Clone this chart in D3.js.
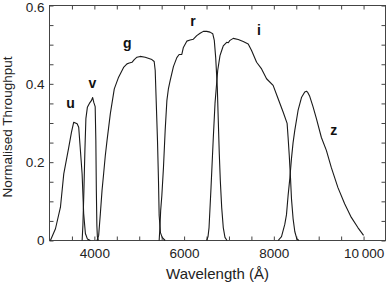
<!DOCTYPE html>
<html>
<head>
<meta charset="utf-8">
<script src="https://cdn.jsdelivr.net/npm/d3@7"></script>
<style>
  body { margin: 0; background: #fff; }
  svg { display: block; font-family: "Liberation Sans", Arial, sans-serif; }
</style>
</head>
<body>
<div id="chart"></div>
<script>
// filter throughput curves, [wavelength (Å), normalised throughput]
const uBand = [[3020,0],[3133,0.030],[3244,0.085],[3318,0.170],[3429,0.238],[3489,0.276],[3540,0.302],
  [3616,0.298],[3651,0.289],[3689,0.230],[3727,0.170],[3762,0.068],[3800,0.018],[3844,0.004],[3911,0]];
const vBand = [[3727,0],[3744,0.038],[3767,0.128],[3789,0.230],[3811,0.311],[3844,0.340],[3889,0.350],
  [3933,0.357],[3962,0.365],[3989,0.352],[4018,0.342],[4033,0.255],[4044,0.128],[4056,0.038],[4067,0.010],[4089,0]];
const gBand = [[4060,0],[4096,0.013],[4133,0.068],[4171,0.128],[4207,0.171],[4244,0.217],[4282,0.255],
  [4356,0.324],[4444,0.387],[4540,0.417],[4651,0.442],[4727,0.451],[4778,0.453],[4838,0.455],[4889,0.462],
  [4949,0.468],[5022,0.470],[5133,0.468],[5282,0.462],[5333,0.457],[5356,0.434],[5378,0.357],[5407,0.255],
  [5429,0.153],[5444,0.064],[5473,0.020],[5511,0.008],[5578,0]];
const rBand = [[5444,0],[5460,0.031],[5478,0.077],[5504,0.115],[5540,0.186],[5578,0.281],[5616,0.357],
  [5651,0.388],[5689,0.408],[5762,0.444],[5838,0.467],[5889,0.475],[5949,0.475],[5984,0.493],[6060,0.509],
  [6133,0.512],[6207,0.514],[6282,0.523],[6356,0.529],[6429,0.534],[6504,0.534],[6578,0.532],[6638,0.528],
  [6673,0.511],[6704,0.467],[6740,0.391],[6762,0.306],[6784,0.222],[6807,0.153],[6838,0.084],[6873,0.033],
  [6911,0.008],[6956,0]];
const iBand = [[6504,0],[6533,0.010],[6556,0.033],[6600,0.135],[6651,0.263],[6689,0.350],[6749,0.434],
  [6800,0.472],[6838,0.485],[6873,0.497],[6949,0.506],[6984,0.505],[7022,0.511],[7096,0.516],[7207,0.513],
  [7318,0.508],[7429,0.502],[7504,0.485],[7616,0.455],[7727,0.438],[7838,0.413],[7984,0.396],[8096,0.362],
  [8207,0.328],[8296,0.299],[8318,0.263],[8344,0.217],[8371,0.161],[8393,0.107],[8429,0.056],[8467,0.023],
  [8511,0.005],[8556,0]];
const zBand = [[8096,0],[8171,0.010],[8244,0.041],[8282,0.066],[8318,0.115],[8356,0.158],[8393,0.209],
  [8429,0.250],[8467,0.281],[8540,0.332],[8616,0.365],[8689,0.379],[8727,0.381],[8756,0.378],[8800,0.368],
  [8873,0.342],[8949,0.311],[9060,0.263],[9171,0.230],[9282,0.186],[9429,0.135],[9578,0.094],[9727,0.059],
  [9873,0.033],[10000,0.013]];

const bands = [uBand, vBand, gBand, rBand, iBand, zBand];
const bandNames = ["u", "v", "g", "r", "i", "z"];
// where each filter name sits, [wavelength, throughput]
const bandLabelAt = [[3467,0.352],[3956,0.403],[4733,0.503],[6200,0.559],[7667,0.536],[9333,0.281]];

const xTicks = d3.range(3500, 10001, 500);
const xMajor = [4000, 6000, 8000, 10000];
const yTicks = d3.range(0, 0.6001, 0.05).map(v => +v.toFixed(2));
const yMajor = [0, 0.2, 0.4, 0.6];

const width = 388, height = 283;
const mLeft = 49.5, mRight = 385.5, mTop = 5.5, mBottom = 240.5;

const svg = d3.select("#chart").append("svg")
  .attr("width", width)
  .attr("height", height);

const x = d3.scaleLinear().domain([3000, 10500]).range([mLeft, mRight + 0.5]);
const y = d3.scaleLinear().domain([0, 0.6]).range([mBottom, mTop]);

const isMajor = (list, v) => list.some(m => Math.abs(m - v) < 1e-6);
const fmtX = v => v >= 10000 ? d3.format(",")(v).replace(",", "\u2009") : String(v);

// bottom axis with labels, ticks pointing inwards
svg.append("g")
  .attr("transform", `translate(0,${mBottom})`)
  .call(d3.axisBottom(x).tickValues(xTicks).tickSizeInner(-4).tickSizeOuter(0).tickPadding(8)
    .tickFormat(v => isMajor(xMajor, v) ? fmtX(v) : ""));
svg.append("g")
  .attr("transform", `translate(0,${mTop})`)
  .call(d3.axisTop(x).tickValues(xTicks).tickSizeInner(-4).tickSizeOuter(0).tickFormat(""));

const yAxis = svg.append("g")
  .attr("transform", `translate(${mLeft},0)`)
  .call(d3.axisLeft(y).tickValues(yTicks).tickSizeInner(-4).tickSizeOuter(0).tickPadding(5)
    .tickFormat(v => isMajor(yMajor, v) ? (v === 0 ? "0" : d3.format(".1f")(v)) : ""));
svg.append("g")
  .attr("transform", `translate(${mRight},0)`)
  .call(d3.axisRight(y).tickValues(yTicks).tickSizeInner(-4).tickSizeOuter(0).tickFormat(""));

svg.selectAll(".domain").remove();
svg.selectAll(".tick line").attr("stroke", "#444");
svg.selectAll(".tick text")
  .attr("fill", "#222")
  .style("font-size", "13.5px");
// top label sits against the edge, nudge it down a touch
yAxis.selectAll(".tick text").filter(d => d === 0.6).attr("dy", "0.45em");

svg.append("rect")
  .attr("x", mLeft)
  .attr("y", mTop)
  .attr("width", mRight - mLeft)
  .attr("height", mBottom - mTop)
  .attr("fill", "none")
  .attr("stroke", "#444");

const line = d3.line()
  .x(d => x(d[0]))
  .y(d => y(d[1]));

svg.append("g")
  .selectAll("path")
  .data(bands)
  .join("path")
  .attr("d", line)
  .attr("fill", "none")
  .attr("stroke", "#1a1a1a")
  .attr("stroke-width", 1.1)
  .attr("stroke-linejoin", "round");

svg.append("g")
  .selectAll("text")
  .data(bandNames)
  .join("text")
  .attr("x", (d, i) => x(bandLabelAt[i][0]))
  .attr("y", (d, i) => y(bandLabelAt[i][1]))
  .attr("dy", "0.35em")
  .attr("text-anchor", "middle")
  .style("font-size", "14px")
  .style("font-weight", "bold")
  .attr("fill", "#111")
  .text(d => d);

svg.append("text")
  .attr("x", (mLeft + mRight) / 2)
  .attr("y", 279)
  .attr("text-anchor", "middle")
  .style("font-size", "15px")
  .attr("fill", "#222")
  .text("Wavelength (Å)");

svg.append("text")
  .attr("transform", `translate(12,${(mTop + mBottom) / 2 + 4}) rotate(-90)`)
  .attr("text-anchor", "middle")
  .style("font-size", "13.5px")
  .attr("fill", "#222")
  .text("Normalised Throughput");
</script>
</body>
</html>
